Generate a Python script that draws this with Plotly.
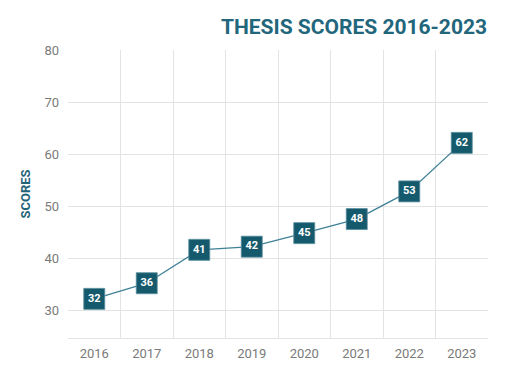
import plotly.graph_objects as go

years = ["2016", "2017", "2018", "2019", "2020", "2021", "2022", "2023"]
scores = [32.3, 35.3, 41.7, 42.3, 44.9, 47.6, 52.9, 62.2]
score_labels = ["32", "36", "41", "42", "45", "48", "53", "62"]

dark = "#145a6c"
grid = "#e3e3e3"

fig = go.Figure()
fig.add_trace(go.Scatter(
    x=years, y=scores, mode="lines+markers+text",
    line=dict(color="#3f8196", width=1.3),
    marker=dict(symbol="square", size=21, color=dark, line=dict(color="#5c8f9e", width=0.8)),
    text=score_labels, textposition="middle center",
    textfont=dict(family="Roboto", size=11, color="white", weight=700),
    cliponaxis=False, hoverinfo="skip",
))

fig.update_layout(
    width=510, height=382,
    margin=dict(l=68, r=22, t=50, b=44, autoexpand=False),
    paper_bgcolor="white", plot_bgcolor="white",
    showlegend=False,
    title=dict(text="THESIS SCORES 2016-2023", x=0.955, xanchor="right", y=0.93, yanchor="middle",
               automargin=False,
               font=dict(family="Roboto", size=21, color="#22667c", weight=700)),
    xaxis=dict(type="category", range=[-0.5, len(years) - 0.5], tickson="boundaries",
               showgrid=True, gridcolor=grid, gridwidth=1,
               showline=True, linecolor=grid, linewidth=1, ticks="", mirror=False, automargin=False,
               tickfont=dict(family="Roboto", size=13, color="#7a7a7a"), ticklabelstandoff=3),
    yaxis=dict(range=[24.8, 80], tickvals=[30, 40, 50, 60, 70, 80], showgrid=True, gridcolor=grid,
               gridwidth=1, zeroline=False, showline=False, ticks="", automargin=False,
               tickfont=dict(family="Roboto", size=13, color="#7a7a7a"), ticklabelstandoff=8,
               title=dict(text="SCORES", standoff=10,
                          font=dict(family="Roboto", size=13, color="#1f6478", weight=700))),
)

fig.write_html("out.html", config={"displayModeBar": False},
               post_script="document.body.style.margin='0';")
